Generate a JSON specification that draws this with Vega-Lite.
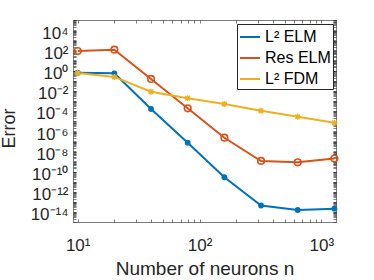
{
  "$schema": "https://vega.github.io/schema/vega-lite/v6.json",
  "width": 263,
  "height": 202,
  "autosize": {"type": "none"},
  "padding": {"left": 73, "top": 20, "right": 38, "bottom": 58},
  "background": "white",
  "config": {"view": {"stroke": null}},
  "data": {"values": [
    {"n": 10, "err": 0.6, "s": "L² ELM"},
    {"n": 20, "err": 0.52, "s": "L² ELM"},
    {"n": 40, "err": 1.55e-4, "s": "L² ELM"},
    {"n": 80, "err": 7.1e-8, "s": "L² ELM"},
    {"n": 160, "err": 2.7e-11, "s": "L² ELM"},
    {"n": 320, "err": 4.3e-14, "s": "L² ELM"},
    {"n": 640, "err": 1.55e-14, "s": "L² ELM"},
    {"n": 1280, "err": 2.1e-14, "s": "L² ELM"},
    {"n": 10, "err": 85, "s": "Res ELM"},
    {"n": 20, "err": 115, "s": "Res ELM"},
    {"n": 40, "err": 0.145, "s": "Res ELM"},
    {"n": 80, "err": 1.8e-4, "s": "Res ELM"},
    {"n": 160, "err": 2.2e-7, "s": "Res ELM"},
    {"n": 320, "err": 1.1e-9, "s": "Res ELM"},
    {"n": 640, "err": 8.1e-10, "s": "Res ELM"},
    {"n": 1280, "err": 1.9e-9, "s": "Res ELM"},
    {"n": 10, "err": 0.56, "s": "L² FDM"},
    {"n": 20, "err": 0.23, "s": "L² FDM"},
    {"n": 40, "err": 7.9e-3, "s": "L² FDM"},
    {"n": 80, "err": 1.8e-3, "s": "L² FDM"},
    {"n": 160, "err": 4.8e-4, "s": "L² FDM"},
    {"n": 320, "err": 1.05e-4, "s": "L² FDM"},
    {"n": 640, "err": 2.7e-5, "s": "L² FDM"},
    {"n": 1280, "err": 6.8e-6, "s": "L² FDM"}
  ]},
  "resolve": {"axis": {"x": "independent", "y": "independent"}},
  "layer": [
    {
      "mark": {"type": "line", "strokeWidth": 2, "clip": true},
      "encoding": {
        "x": {"field": "n", "type": "quantitative",
          "scale": {"type": "log", "domain": [9.15, 1320], "nice": false},
          "axis": {"orient": "bottom",
            "values": [10,20,30,40,50,60,70,80,90,100,200,300,400,500,600,700,800,900,1000],
            "labelExpr": "abs(log(datum.value)/LN10 - round(log(datum.value)/LN10)) < 0.001 ? '10' + replace(replace(replace(toString(round(log(datum.value)/LN10)),'1','¹'),'2','²'),'3','³') : ''",
            "tickSize": -3, "tickWidth": 0.6, "tickColor": "#262626",
            "domainColor": "#262626", "domainWidth": 0.6,
            "labelFont": "Liberation Sans", "labelFontSize": 17, "labelColor": "#262626",
            "labelBaseline": "alphabetic", "labelPadding": 31,
            "labelOverlap": false, "labelFlush": false, "grid": false,
            "title": "Number of neurons n", "titleFont": "Liberation Sans", "titleFontSize": 19,
            "titleFontWeight": "normal", "titleColor": "#262626",
            "titleBaseline": "alphabetic", "titleY": 52}},
        "y": {"field": "err", "type": "quantitative",
          "scale": {"type": "log", "domain": [1e-15, 1e5], "nice": false},
          "axis": {"orient": "left",
            "values": [1e-15,2e-15,3e-15,4e-15,5e-15,6e-15,7e-15,8e-15,9e-15,
              1e-14,2e-14,3e-14,4e-14,5e-14,6e-14,7e-14,8e-14,9e-14,
              1e-13,2e-13,3e-13,4e-13,5e-13,6e-13,7e-13,8e-13,9e-13,
              1e-12,2e-12,3e-12,4e-12,5e-12,6e-12,7e-12,8e-12,9e-12,
              1e-11,2e-11,3e-11,4e-11,5e-11,6e-11,7e-11,8e-11,9e-11,
              1e-10,2e-10,3e-10,4e-10,5e-10,6e-10,7e-10,8e-10,9e-10,
              1e-9,2e-9,3e-9,4e-9,5e-9,6e-9,7e-9,8e-9,9e-9,
              1e-8,2e-8,3e-8,4e-8,5e-8,6e-8,7e-8,8e-8,9e-8,
              1e-7,2e-7,3e-7,4e-7,5e-7,6e-7,7e-7,8e-7,9e-7,
              1e-6,2e-6,3e-6,4e-6,5e-6,6e-6,7e-6,8e-6,9e-6,
              1e-5,2e-5,3e-5,4e-5,5e-5,6e-5,7e-5,8e-5,9e-5,
              1e-4,2e-4,3e-4,4e-4,5e-4,6e-4,7e-4,8e-4,9e-4,
              1e-3,2e-3,3e-3,4e-3,5e-3,6e-3,7e-3,8e-3,9e-3,
              1e-2,2e-2,3e-2,4e-2,5e-2,6e-2,7e-2,8e-2,9e-2,
              0.1,0.2,0.3,0.4,0.5,0.6,0.7,0.8,0.9,
              1,2,3,4,5,6,7,8,9,
              10,20,30,40,50,60,70,80,90,
              100,200,300,400,500,600,700,800,900,
              1000,2000,3000,4000,5000,6000,7000,8000,9000,
              10000,20000,30000,40000,50000,60000,70000,80000,90000,
              100000],
            "labelExpr": "abs(log(datum.value)/LN10 - round(log(datum.value)/LN10)) < 0.001 && round(log(datum.value)/LN10) % 2 == 0 ? '10' + replace(replace(replace(replace(replace(replace(replace(toString(round(log(datum.value)/LN10)),'-','⁻'),'0','⁰'),'1','¹'),'2','²'),'4','⁴'),'6','⁶'),'8','⁸') : ''",
            "tickSize": -3, "tickWidth": 0.6, "tickColor": "#262626",
            "domainColor": "#262626", "domainWidth": 0.6,
            "labelFont": "Liberation Sans", "labelFontSize": 17, "labelColor": "#262626",
            "labelBaseline": "middle", "labelPadding": 8, "labelOffset": 3,
            "labelOverlap": false, "labelFlush": false, "grid": false,
            "title": "Error", "titleFont": "Liberation Sans", "titleFontSize": 18,
            "titleFontWeight": "normal", "titleColor": "#262626",
            "titleBaseline": "alphabetic", "titleX": -59, "titleY": 108, "titleAngle": -90}},
        "color": {"field": "s", "type": "nominal",
          "scale": {"domain": ["L² ELM", "Res ELM", "L² FDM"], "range": ["#0072BD", "#D95319", "#EDB120"]},
          "legend": {"orient": "top-right", "offset": 3.5, "title": null, "padding": 2,
            "fillColor": "white", "strokeColor": "#262626",
            "symbolSize": 400, "symbolStrokeWidth": 2,
            "labelFont": "Liberation Sans", "labelFontSize": 16, "labelColor": "black",
            "labelOffset": 4, "labelLimit": 0, "rowPadding": 2,
            "encoding": {"symbols": {"update": {
              "shape": {"signal": "datum.value == 'Res ELM' ? 'M-1.4,0H1.4M-0.32,0A0.32,0.32 0 1,0 0.32,0A0.32,0.32 0 1,0 -0.32,0' : datum.value == 'L² FDM' ? 'M-1.4,0H1.4M0,-0.28V0.28M-0.22,-0.22L0.22,0.22M-0.22,0.22L0.22,-0.22' : 'M-1.4,0H1.4M-0.28,0A0.28,0.28 0 1,0 0.28,0A0.28,0.28 0 1,0 -0.28,0'"},
              "fill": {"signal": "datum.value == 'L² ELM' ? '#0072BD' : 'transparent'"},
              "stroke": {"signal": "datum.value == 'L² ELM' ? '#0072BD' : datum.value == 'Res ELM' ? '#D95319' : '#EDB120'"},
              "strokeWidth": {"value": 2}
            }}}}}
      }
    },
    {
      "transform": [{"filter": {"field": "s", "equal": "L² ELM"}}],
      "mark": {"type": "point", "shape": "circle", "filled": true, "size": 34, "color": "#0072BD", "opacity": 1},
      "encoding": {
        "x": {"field": "n", "type": "quantitative",
          "axis": {"orient": "top", "values": [10,20,30,40,50,60,70,80,90,100,200,300,400,500,600,700,800,900,1000],
            "labels": false, "title": null, "tickSize": -3, "tickWidth": 0.6, "tickColor": "#262626",
            "domainColor": "#262626", "domainWidth": 0.6, "grid": false}},
        "y": {"field": "err", "type": "quantitative",
          "axis": {"orient": "right",
            "values": [1e-15,2e-15,3e-15,4e-15,5e-15,6e-15,7e-15,8e-15,9e-15,
              1e-14,2e-14,3e-14,4e-14,5e-14,6e-14,7e-14,8e-14,9e-14,
              1e-13,2e-13,3e-13,4e-13,5e-13,6e-13,7e-13,8e-13,9e-13,
              1e-12,2e-12,3e-12,4e-12,5e-12,6e-12,7e-12,8e-12,9e-12,
              1e-11,2e-11,3e-11,4e-11,5e-11,6e-11,7e-11,8e-11,9e-11,
              1e-10,2e-10,3e-10,4e-10,5e-10,6e-10,7e-10,8e-10,9e-10,
              1e-9,2e-9,3e-9,4e-9,5e-9,6e-9,7e-9,8e-9,9e-9,
              1e-8,2e-8,3e-8,4e-8,5e-8,6e-8,7e-8,8e-8,9e-8,
              1e-7,2e-7,3e-7,4e-7,5e-7,6e-7,7e-7,8e-7,9e-7,
              1e-6,2e-6,3e-6,4e-6,5e-6,6e-6,7e-6,8e-6,9e-6,
              1e-5,2e-5,3e-5,4e-5,5e-5,6e-5,7e-5,8e-5,9e-5,
              1e-4,2e-4,3e-4,4e-4,5e-4,6e-4,7e-4,8e-4,9e-4,
              1e-3,2e-3,3e-3,4e-3,5e-3,6e-3,7e-3,8e-3,9e-3,
              1e-2,2e-2,3e-2,4e-2,5e-2,6e-2,7e-2,8e-2,9e-2,
              0.1,0.2,0.3,0.4,0.5,0.6,0.7,0.8,0.9,
              1,2,3,4,5,6,7,8,9,
              10,20,30,40,50,60,70,80,90,
              100,200,300,400,500,600,700,800,900,
              1000,2000,3000,4000,5000,6000,7000,8000,9000,
              10000,20000,30000,40000,50000,60000,70000,80000,90000,
              100000],
            "labels": false, "title": null, "tickSize": -3, "tickWidth": 0.6, "tickColor": "#262626",
            "domainColor": "#262626", "domainWidth": 0.6, "grid": false}}
      }
    },
    {
      "transform": [{"filter": {"field": "s", "equal": "Res ELM"}}],
      "mark": {"type": "point", "shape": "circle", "filled": false, "size": 44, "color": "#D95319", "strokeWidth": 1.6, "opacity": 1},
      "encoding": {
        "x": {"field": "n", "type": "quantitative", "axis": null},
        "y": {"field": "err", "type": "quantitative", "axis": null}
      }
    },
    {
      "transform": [{"filter": {"field": "s", "equal": "L² FDM"}}],
      "mark": {"type": "point", "shape": "M-1,0H1M0,-1V1M-0.75,-0.75L0.75,0.75M-0.75,0.75L0.75,-0.75", "filled": false, "size": 36, "color": "#EDB120", "strokeWidth": 1.4, "opacity": 1},
      "encoding": {
        "x": {"field": "n", "type": "quantitative", "axis": null},
        "y": {"field": "err", "type": "quantitative", "axis": null}
      }
    }
  ]
}
